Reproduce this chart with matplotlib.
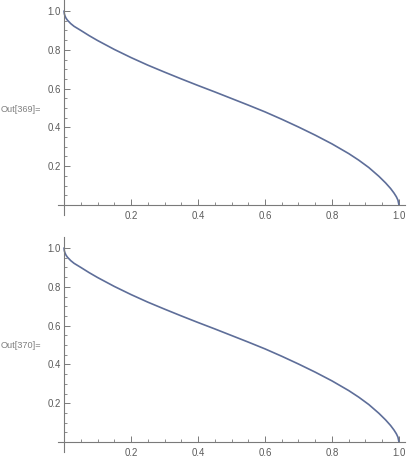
import matplotlib

matplotlib.use("Agg")
import matplotlib.pyplot as plt

# curve values (both outputs show the same curve)
x_vals = [0.0, 0.001, 0.003, 0.006, 0.01, 0.02, 0.03, 0.05, 0.075, 0.1,
          0.15, 0.2, 0.25, 0.3, 0.35, 0.4, 0.45, 0.5, 0.55, 0.6, 0.65, 0.7,
          0.75, 0.8, 0.85, 0.88, 0.91, 0.94, 0.96, 0.975, 0.985, 0.992,
          0.997, 1.0]
y_vals = [1.0, 0.985, 0.974, 0.963, 0.953, 0.935, 0.921, 0.900, 0.873, 0.848,
          0.802, 0.760, 0.721, 0.685, 0.650, 0.616, 0.583, 0.549, 0.515, 0.480,
          0.442, 0.402, 0.360, 0.315, 0.265, 0.231, 0.193, 0.148, 0.114, 0.085,
          0.062, 0.043, 0.025, 0.0]

major_ticks = [0.2, 0.4, 0.6, 0.8, 1.0]
tick_labels = ["0.2", "0.4", "0.6", "0.8", "1.0"]
minor_ticks = [0.05, 0.1, 0.15, 0.25, 0.3, 0.35, 0.45, 0.5, 0.55,
               0.65, 0.7, 0.75, 0.85, 0.9, 0.95]
out_labels = ["Out[369]=", "Out[370]="]

W, H = 407, 459
LINE = "#5e6e99"
AXIS = "#7a7a7a"
TEXT = "#5a5a5a"

plt.rcParams["font.family"] = ["Liberation Sans", "DejaVu Sans"]

fig = plt.figure(figsize=(W / 100, H / 100), dpi=100)
fig.patch.set_facecolor("white")


def draw_panel(top_px: float, label: str) -> None:
    ax = fig.add_axes([58 / W, 1 - (top_px + 215) / H, (405 - 58) / W, 215 / H])
    ax.plot(x_vals, y_vals, color=LINE, lw=1.2, solid_joinstyle="round",
            solid_capstyle="round")
    ax.set_xlim(-0.018, 1.018)
    ax.set_ylim(-10 / 194, 1 + 11 / 194)
    for s in ("top", "right"):
        ax.spines[s].set_visible(False)
    for s in ("left", "bottom"):
        ax.spines[s].set_position(("data", 0))
        ax.spines[s].set_color(AXIS)
        ax.spines[s].set_linewidth(0.8)
    ax.set_xticks(major_ticks, tick_labels)
    ax.set_yticks(major_ticks, tick_labels)
    ax.set_xticks(minor_ticks, minor=True)
    ax.set_yticks(minor_ticks, minor=True)
    ax.tick_params(which="major", direction="in", length=4, width=0.7,
                   color=AXIS, labelsize=6.9, labelcolor=TEXT)
    ax.tick_params(which="minor", direction="in", length=2.5, width=0.6, color=AXIS)
    ax.tick_params(axis="x", which="major", pad=4.5)
    ax.tick_params(axis="y", which="major", pad=2.5)
    ax.patch.set_alpha(0)
    fig.text(0.5 / W, 1 - (top_px + 109) / H, label, ha="left", va="center",
             fontsize=6.6, color="#808080")


draw_panel(0, out_labels[0])
draw_panel(237, out_labels[1])

fig.savefig("out.png", dpi=100)
